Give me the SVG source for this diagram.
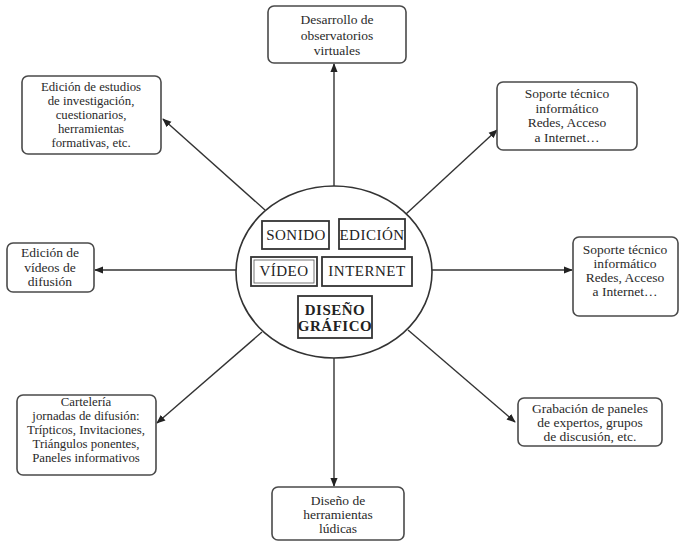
<svg xmlns="http://www.w3.org/2000/svg" width="681" height="543" viewBox="0 0 681 543">
<style>
.box{fill:#fff;stroke:#4a4a4a;stroke-width:1.6}
.t{font-family:"Liberation Serif",serif;font-size:13.5px;fill:#2a2a2a;text-anchor:middle}
.s{font-size:12.8px}
.in{fill:#fff;stroke:#333;stroke-width:1.8}
.it{font-family:"Liberation Serif",serif;font-size:15px;fill:#222;text-anchor:middle;letter-spacing:0.5px}
.c{stroke:#333;stroke-width:1.4;fill:none;marker-end:url(#ah)}
</style>
<defs>
<marker id="ah" viewBox="0 0 10 10" refX="9" refY="5" markerWidth="9" markerHeight="9" markerUnits="userSpaceOnUse" orient="auto">
<path d="M0,1 L10,5 L0,9 z" fill="#222"/>
</marker>
</defs>
<rect width="681" height="543" fill="#fff"/>
<g id="connectors">
<line class="c" x1="334" y1="186" x2="334" y2="64"/>
<line class="c" x1="334" y1="358" x2="334" y2="486"/>
<line class="c" x1="236" y1="270" x2="95" y2="270"/>
<line class="c" x1="432" y1="270" x2="572" y2="270"/>
<line class="c" x1="265" y1="210" x2="163" y2="119"/>
<line class="c" x1="406" y1="214" x2="497" y2="130"/>
<line class="c" x1="262" y1="332" x2="157" y2="423"/>
<line class="c" x1="408" y1="330" x2="515" y2="422"/>
</g>
<g id="center">
<ellipse cx="334" cy="272" rx="98" ry="86" fill="#fff" stroke="#333" stroke-width="1.6"/>
<rect class="in" x="262" y="221" width="67" height="28"/>
<text class="it" x="296" y="240">SONIDO</text>
<rect class="in" x="339" y="219" width="66" height="30"/>
<text class="it" x="372" y="240">EDICIÓN</text>
<rect class="in" x="251" y="257" width="66" height="29"/>
<rect x="254" y="260" width="60" height="23" fill="none" stroke="#555" stroke-width="0.8"/>
<text class="it" x="284" y="276">VÍDEO</text>
<rect class="in" x="322" y="257" width="90" height="29"/>
<text class="it" x="367" y="276">INTERNET</text>
<rect class="in" x="298" y="296" width="74" height="42"/>
<text class="it" x="335" y="315" font-weight="bold" font-size="14">DISEÑO</text>
<text class="it" x="335" y="331" font-weight="bold" font-size="14">GRÁFICO</text>
</g>
<g id="n-top">
<rect class="box" x="268" y="6" width="138" height="57" rx="6"/>
<text class="t" x="337" y="24">Desarrollo de</text>
<text class="t" x="337" y="39.5">observatorios</text>
<text class="t" x="337" y="55">virtuales</text>
</g>
<g id="n-topleft">
<rect class="box" x="22" y="76" width="139" height="78" rx="6"/>
<text class="t s" x="91" y="91">Edición de estudios</text>
<text class="t s" x="91" y="105">de investigación,</text>
<text class="t s" x="91" y="119">cuestionarios,</text>
<text class="t s" x="91" y="133">herramientas</text>
<text class="t s" x="91" y="147">formativas, etc.</text>
</g>
<g id="n-topright">
<rect class="box" x="497" y="82" width="140" height="68" rx="6"/>
<text class="t" x="567" y="98">Soporte técnico</text>
<text class="t" x="567" y="112.5">informático</text>
<text class="t" x="567" y="127">Redes, Acceso</text>
<text class="t" x="567" y="141.5">a Internet…</text>
</g>
<g id="n-right">
<rect class="box" x="573" y="237" width="105" height="79" rx="6"/>
<text class="t" x="625" y="254">Soporte técnico</text>
<text class="t" x="625" y="268">informático</text>
<text class="t" x="625" y="282">Redes, Acceso</text>
<text class="t" x="625" y="296">a Internet…</text>
</g>
<g id="n-left">
<rect class="box" x="7" y="243" width="87" height="49" rx="6"/>
<text class="t" x="50" y="257">Edición de</text>
<text class="t" x="50" y="271.5">vídeos de</text>
<text class="t" x="50" y="286">difusión</text>
</g>
<g id="n-bottomleft">
<rect class="box" x="17" y="395" width="139" height="80" rx="6"/>
<text class="t s" x="86" y="406">Cartelería</text>
<text class="t s" x="86" y="420">jornadas de difusión:</text>
<text class="t s" x="86" y="434">Trípticos, Invitaciones,</text>
<text class="t s" x="86" y="448">Triángulos ponentes,</text>
<text class="t s" x="86" y="462">Paneles informativos</text>
</g>
<g id="n-bottomright">
<rect class="box" x="518" y="398" width="144" height="48" rx="6"/>
<text class="t" x="590" y="413">Grabación de paneles</text>
<text class="t" x="590" y="427">de expertos, grupos</text>
<text class="t" x="590" y="441">de discusión, etc.</text>
</g>
<g id="n-bottom">
<rect class="box" x="272" y="487" width="132" height="53" rx="6"/>
<text class="t" x="338" y="505">Diseño de</text>
<text class="t" x="338" y="519">herramientas</text>
<text class="t" x="338" y="533">lúdicas</text>
</g>
</svg>
